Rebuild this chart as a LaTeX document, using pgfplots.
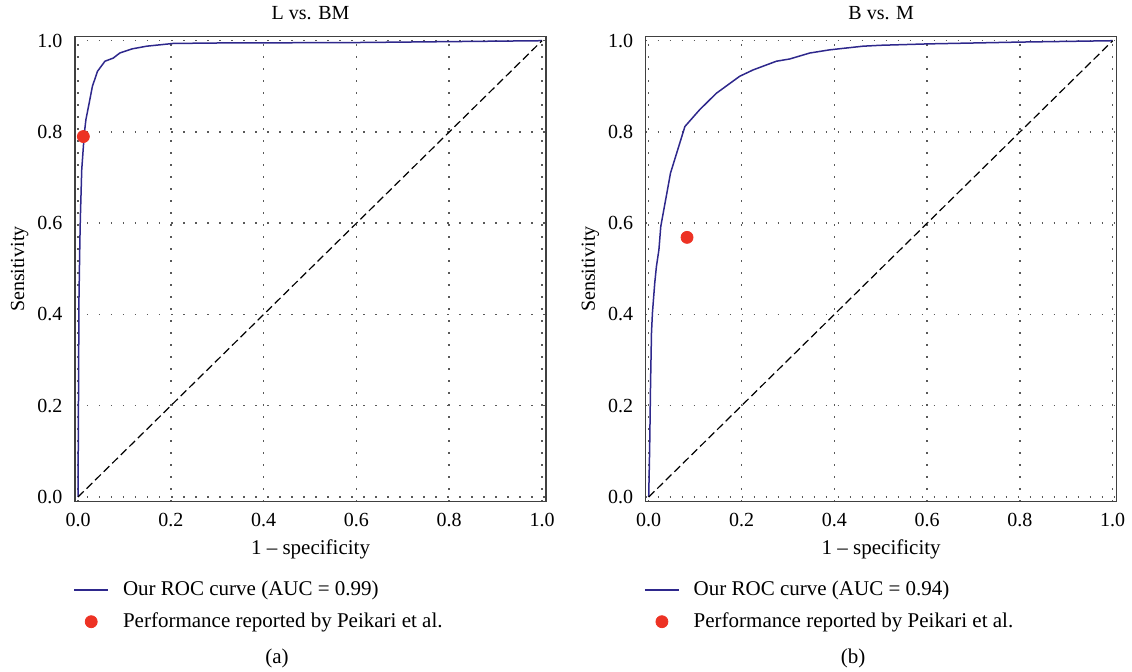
\documentclass[border=0pt]{standalone}
\usepackage{pgfplots}
\pgfplotsset{compat=1.18}
\usepackage{fontspec}
\setmainfont{Liberation Serif}

\definecolor{rocblue}{RGB}{46,40,140}
\definecolor{refred}{RGB}{237,50,36}

\newcommand{\chartfont}{\fontsize{10}{12}\selectfont}
\newcommand{\labelfont}{\fontsize{10.5}{12.5}\selectfont}

\pgfplotsset{
  every axis title shift=0pt,
  every axis title/.style={font=\chartfont, at={(axis description cs:0.5,1.038)}, anchor=base},
  rocaxis/.style={
    scale only axis,
    width=235.5pt, height=232.5pt,
    xmin=-0.0065, xmax=1.0086,
    ymin=-0.0103, ymax=1.0088,
    xtick={0,0.2,0.4,0.6,0.8,1.0}, ytick={0,0.2,0.4,0.6,0.8,1.0},
    /pgf/number format/fixed,
    /pgf/number format/fixed zerofill,
    /pgf/number format/precision=1,
    /pgf/number format/assume math mode=true,
    major tick length=0pt,
    tick label style={font=\chartfont},
    xticklabel style={yshift=-2.2pt},
    yticklabel style={xshift=-2.8pt},
    axis line style={draw=black!75, line width=0.7pt},
    grid=major,
    major grid style={draw=black!65, line width=0.75pt, dash pattern=on 0.75pt off 5.25pt},
    xlabel={1 -- specificity}, ylabel={Sensitivity},
    xlabel style={font=\labelfont, at={(axis description cs:0.5,-0.114)}, anchor=base},
    ylabel style={font=\chartfont, at={(axis description cs:-0.108,0.5)}, anchor=base},
    legend style={font=\labelfont, draw=none, fill=none,
      at={(axis description cs:-0.017,-0.153)}, anchor=north west,
      row sep=3pt,
      /tikz/every odd column/.append style={column sep=5pt}},
    legend cell align=left,
  },
  chance/.style={black, line width=0.6pt, dash pattern=on 4pt off 2pt},
  roc/.style={rocblue, line width=0.75pt},
  ref/.style={only marks, mark=*, mark size=3pt, mark options={draw=refred, fill=refred}},
}

\begin{document}
\begin{tikzpicture}
\path[use as bounding box] (0,0) rectangle (566pt,335.5pt);

% (a) lymphocytes vs. benign + malignant
\begin{axis}[rocaxis, at={(37.5pt,317.15pt)}, anchor=north west, title={L vs. BM}]
\addplot[roc] coordinates {
  (0,0) (0.001,0.20) (0.002,0.43) (0.004,0.56) (0.005,0.61) (0.008,0.717)
  (0.0136,0.797) (0.017,0.827) (0.024,0.863) (0.031,0.900) (0.042,0.933)
  (0.058,0.955) (0.076,0.962) (0.090,0.973) (0.116,0.982) (0.148,0.988)
  (0.205,0.994) (0.3,0.995) (0.6,0.996) (0.8,0.998) (1,1)
};
\addlegendentry{Our ROC curve (AUC = 0.99)}
\addplot[ref] coordinates {(0.0115,0.790)};
\addlegendentry{Performance reported by Peikari et al.}
\addplot[chance, forget plot] coordinates {(0,0) (1,1)};
\end{axis}

% (b) benign vs. malignant
\begin{axis}[rocaxis, at={(322.85pt,317.15pt)}, anchor=north west, title={B vs. M}]
\addplot[roc] coordinates {
  (0,0) (0.002,0.103) (0.004,0.25) (0.006,0.36) (0.008,0.403) (0.013,0.469)
  (0.0166,0.505) (0.022,0.542) (0.026,0.593) (0.047,0.71) (0.078,0.812)
  (0.11,0.849) (0.146,0.885) (0.196,0.922) (0.225,0.936) (0.275,0.955)
  (0.304,0.96) (0.347,0.973) (0.39,0.980) (0.462,0.988) (0.5,0.99)
  (0.6,0.993) (0.8,0.997) (1,1)
};
\addlegendentry{Our ROC curve (AUC = 0.94)}
\addplot[ref] coordinates {(0.0826,0.569)};
\addlegendentry{Performance reported by Peikari et al.}
\addplot[chance, forget plot] coordinates {(0,0) (1,1)};
\end{axis}

\node[font=\labelfont, anchor=base] at (138.5pt,4pt) {(a)};
\node[font=\labelfont, anchor=base] at (426.5pt,4pt) {(b)};
\end{tikzpicture}
\end{document}
